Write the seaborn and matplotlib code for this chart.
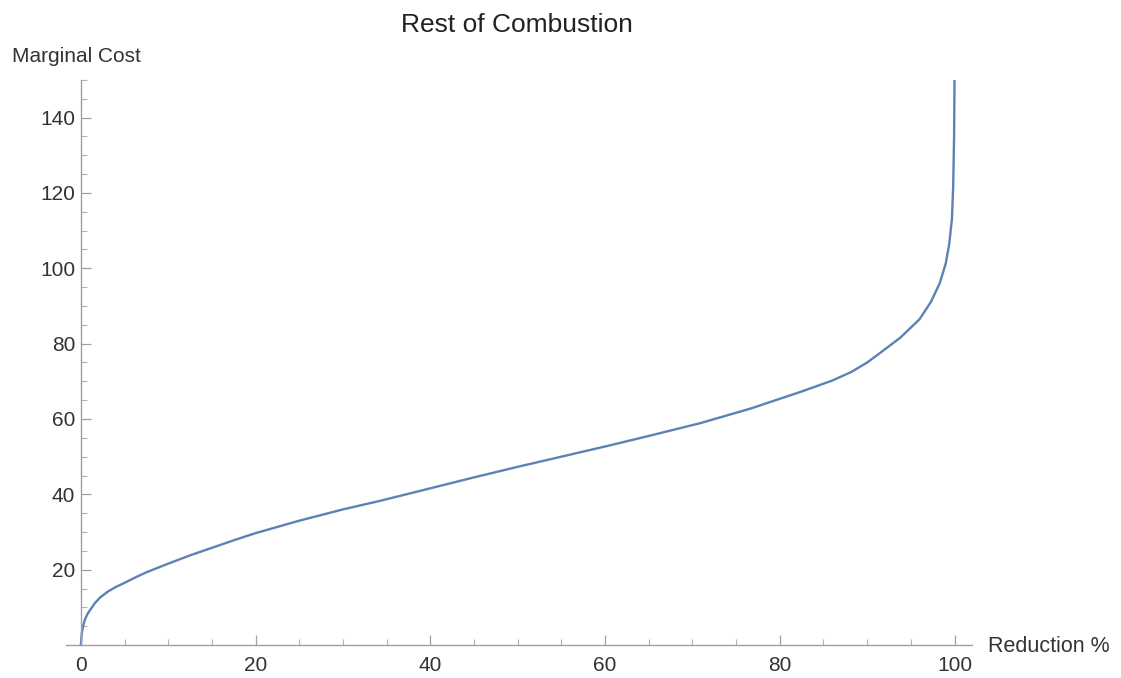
import matplotlib
matplotlib.use("Agg")
import matplotlib.pyplot as plt
import seaborn as sns
import pandas as pd
from matplotlib.ticker import MultipleLocator

reduction = [0, 0.1, 0.25, 0.5, 0.8, 1.6, 2.2, 3.1, 4, 5, 6.2, 7.5, 10, 12.5, 15,
             17.5, 20, 25, 30, 34.3, 40, 45, 50, 55, 60, 65, 70.9, 76.7, 82.5, 86,
             88.2, 90, 91.4, 93.8, 96, 97.3, 98.3, 99, 99.4, 99.7, 99.85, 99.95, 100]
marginal_cost = [0, 3, 5, 7, 8.4, 11.1, 12.6, 14.2, 15.4, 16.5, 17.9, 19.3, 21.6,
                 23.8, 25.8, 27.8, 29.7, 33.0, 36.0, 38.3, 41.6, 44.5, 47.3, 50.0,
                 52.7, 55.5, 58.9, 62.8, 67.3, 70.2, 72.5, 75.0, 77.4, 81.6, 86.5,
                 91.1, 96.0, 101.3, 106.6, 113, 122, 135, 150]
x_ticks = [0, 20, 40, 60, 80, 100]
y_ticks = [20, 40, 60, 80, 100, 120, 140]

sns.set_theme(style="white")
plt.rcParams['font.family'] = ['Liberation Sans', 'DejaVu Sans']

df = pd.DataFrame({"Reduction %": reduction, "Marginal Cost": marginal_cost})

fig = plt.figure(figsize=(11.21, 6.78), dpi=100)
ax = fig.add_axes([66/1121, 33/678, 906/1121, 565/678])
sns.lineplot(data=df, x="Reduction %", y="Marginal Cost", ax=ax,
             color="#5E81B5", linewidth=1.7, sort=False, estimator=None)

ax.set_xlim(-1.7, 102)
ax.set_ylim(0, 150)
ax.set_xticks(x_ticks)
ax.set_yticks(y_ticks)
ax.xaxis.set_minor_locator(MultipleLocator(5))
ax.yaxis.set_minor_locator(MultipleLocator(5))

for s in ["top", "right"]:
    ax.spines[s].set_visible(False)
ax.spines["left"].set_position(("data", 0))
for s in ["left", "bottom"]:
    ax.spines[s].set_color("#a0a0a0")
    ax.spines[s].set_linewidth(1.0)

ax.tick_params(axis="both", which="major", direction="in", length=7, width=0.9,
               color="#a0a0a0", labelsize=15, labelcolor="#333333", pad=4)
ax.tick_params(axis="x", which="major", pad=8)
ax.tick_params(axis="both", which="minor", direction="in", length=4, width=0.8,
               color="#b0b0b0")
ax.tick_params(axis="both", which="both", bottom=True, left=True)

ax.set_xlabel("")
ax.set_ylabel("")
fig.text(12/1121, 1 - 57/678, "Marginal Cost", fontsize=15, color="#333333",
         ha="left", va="center")
fig.text(988/1121, 1 - 647/678, "Reduction %", fontsize=15.5, color="#333333",
         ha="left", va="center")
fig.text(517/1121, 1 - 25/678, "Rest of Combustion", fontsize=19, color="#222222",
         ha="center", va="center")

fig.savefig("out.png", dpi=100, facecolor="white")
